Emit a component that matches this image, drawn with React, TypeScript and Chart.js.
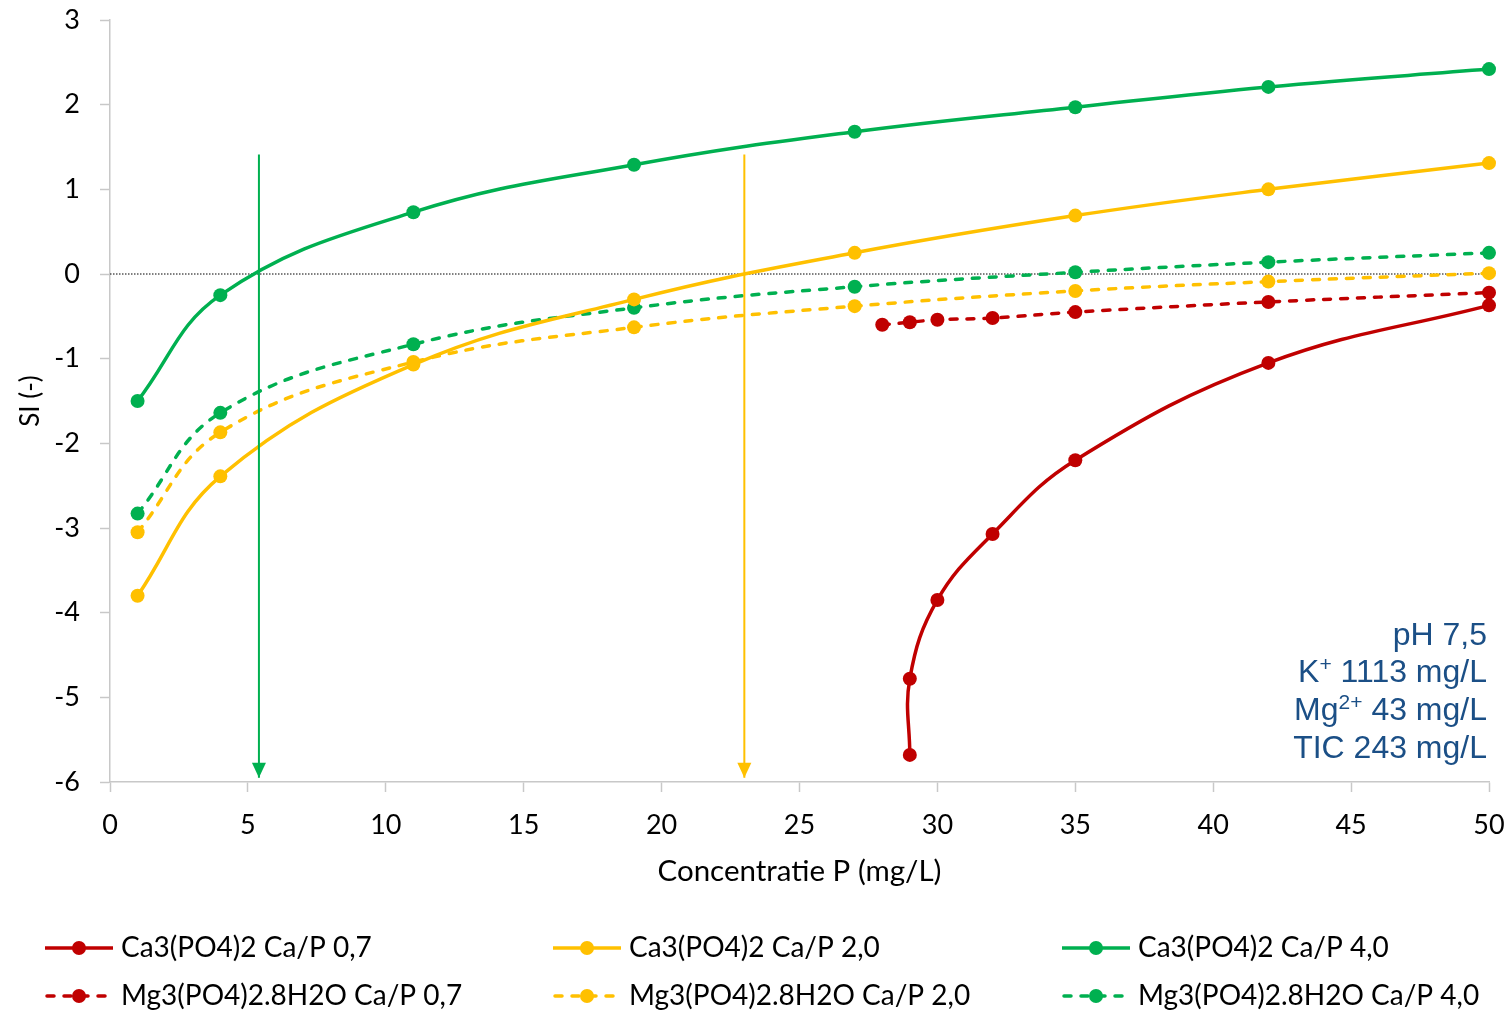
import { useEffect, useRef } from "react";
import { Chart, registerables } from "chart.js";

Chart.register(...registerables);

// Concentration P (mg/L) used for the Ca/P 2,0 and 4,0 series
const concP = [1, 4, 11, 19, 27, 35, 42, 50];

// Ca3(PO4)2 saturation indices
const caP07Conc = [29, 29, 30, 32, 35, 42, 50];
const caP07SI = [-5.68, -4.78, -3.85, -3.07, -2.2, -1.05, -0.37];
const caP20SI = [-3.8, -2.39, -1.07, -0.3, 0.25, 0.69, 1.0, 1.31];
const caP40SI = [-1.5, -0.25, 0.73, 1.29, 1.68, 1.97, 2.21, 2.42];

// Mg3(PO4)2.8H2O saturation indices
const mgP07Conc = [28, 29, 30, 32, 35, 42, 50];
const mgP07SI = [-0.6, -0.57, -0.54, -0.52, -0.45, -0.33, -0.22];
const mgP20SI = [-3.05, -1.87, -1.04, -0.63, -0.38, -0.2, -0.09, 0.01];
const mgP40SI = [-2.83, -1.64, -0.83, -0.4, -0.15, 0.02, 0.14, 0.25];

// Concentrations where Ca3(PO4)2 reaches SI = 0 (green: Ca/P 4,0, yellow: Ca/P 2,0)
const arrowConc = [5.4, 23.0];
const arrowTopSI = 1.41;
const arrowTipSI = -5.95;

// Axis ranges
const xRange = [0, 50];
const xStep = 5;
const yRange = [-6, 3];
const yStep = 1;

const RED = "#C00000";
const YELLOW = "#FFC000";
const GREEN = "#00B050";
const INFO_BLUE = "#1B4F86";
const AXIS_GREY = "#C8C8C8";
const FONT = "Lato";

type Seg = { t: string; sup?: boolean };
const infoLines: Seg[][] = [
  [{ t: "pH 7,5" }],
  [{ t: "K" }, { t: "+", sup: true }, { t: " 1113 mg/L" }],
  [{ t: "Mg" }, { t: "2+", sup: true }, { t: " 43 mg/L" }],
  [{ t: "TIC 243 mg/L" }],
];

const pts = (xs: number[], ys: number[]) => xs.map((x, i) => ({ x, y: ys[i] }));

const DASH = [7, 10];

function seriesDataset(label: string, xs: number[], ys: number[], color: string, dashed: boolean) {
  return {
    label,
    data: pts(xs, ys),
    borderColor: color,
    backgroundColor: color,
    pointBackgroundColor: color,
    pointBorderWidth: 0,
    pointRadius: 7,
    pointHoverRadius: 7,
    borderWidth: 3.5,
    borderDash: dashed ? DASH : [],
    borderCapStyle: dashed ? "round" : "butt",
    tension: 0.4,
    clip: false as const,
  };
}

function arrowDataset(x: number, color: string) {
  return {
    label: "arrow",
    data: [
      { x, y: arrowTopSI },
      { x, y: arrowTipSI },
    ],
    borderColor: color,
    backgroundColor: color,
    borderWidth: 2,
    pointRadius: 0,
    tension: 0,
    arrow: true,
  };
}

const legendOrder = [
  "Ca3(PO4)2 Ca/P 0,7",
  "Ca3(PO4)2 Ca/P 2,0",
  "Ca3(PO4)2 Ca/P 4,0",
  "Mg3(PO4)2.8H2O Ca/P 0,7",
  "Mg3(PO4)2.8H2O Ca/P 2,0",
  "Mg3(PO4)2.8H2O Ca/P 4,0",
];

const arrowHeads = {
  id: "arrowHeads",
  afterDatasetsDraw(chart: any) {
    const ctx = chart.ctx;
    chart.data.datasets.forEach((ds: any, i: number) => {
      if (!ds.arrow) return;
      const meta = chart.getDatasetMeta(i);
      const tip = meta.data[meta.data.length - 1];
      ctx.save();
      ctx.fillStyle = ds.borderColor;
      ctx.beginPath();
      ctx.moveTo(tip.x, tip.y);
      ctx.lineTo(tip.x - 7, tip.y - 15);
      ctx.lineTo(tip.x + 7, tip.y - 15);
      ctx.closePath();
      ctx.fill();
      ctx.restore();
    });
  },
};

const customLegend = {
  id: "customLegend",
  afterDraw(chart: any) {
    const ctx = chart.ctx;
    const colX = [45, 553, 1062];
    const rowY = [948, 996];
    legendOrder.forEach((label, k) => {
      const ds = chart.data.datasets.find((d: any) => d.label === label);
      if (!ds) return;
      const x0 = colX[k % 3];
      const y = rowY[Math.floor(k / 3)];
      ctx.save();
      ctx.strokeStyle = ds.borderColor;
      ctx.lineWidth = 3.5;
      ctx.lineCap = ds.borderCapStyle;
      ctx.setLineDash(ds.borderDash || []);
      ctx.beginPath();
      ctx.moveTo(x0 + (ds.borderDash.length ? 2 : 0), y);
      ctx.lineTo(x0 + 68, y);
      ctx.stroke();
      ctx.setLineDash([]);
      ctx.fillStyle = ds.borderColor;
      ctx.beginPath();
      ctx.arc(x0 + 34, y, 7, 0, Math.PI * 2);
      ctx.fill();
      ctx.fillStyle = "#000";
      ctx.font = `28px ${FONT}`;
      ctx.textBaseline = "middle";
      ctx.textAlign = "left";
      ctx.fillText(label, x0 + 76, y);
      ctx.restore();
    });
  },
};

const infoBox = {
  id: "infoBox",
  afterDraw(chart: any) {
    const ctx = chart.ctx;
    const area = chart.chartArea;
    const right = area.right - 2;
    const big = "32px 'Liberation Sans'";
    const small = "21px 'Liberation Sans'";
    const lineGap = 37.7;
    const lastY = area.bottom - 33;
    ctx.save();
    ctx.fillStyle = INFO_BLUE;
    ctx.textBaseline = "middle";
    ctx.textAlign = "left";
    infoLines.forEach((segs, i) => {
      const y = lastY - (infoLines.length - 1 - i) * lineGap;
      let width = 0;
      segs.forEach((s) => {
        ctx.font = s.sup ? small : big;
        width += ctx.measureText(s.t).width;
      });
      let x = right - width;
      segs.forEach((s) => {
        ctx.font = s.sup ? small : big;
        ctx.fillText(s.t, x, s.sup ? y - 8 : y);
        x += ctx.measureText(s.t).width;
      });
    });
    ctx.restore();
  },
};

// Fixed axis box sizes; the layout padding alone sets the plot margins
const fixBox = (size: number) => (scale: any) => {
  if (scale.isHorizontal()) scale.height = size;
  else scale.width = size;
  scale.paddingTop = 0;
  scale.paddingBottom = 0;
  scale.paddingLeft = 0;
  scale.paddingRight = 0;
};

export default function App() {
  const canvasRef = useRef<HTMLCanvasElement | null>(null);

  useEffect(() => {
    const canvas = canvasRef.current;
    if (!canvas) return;

    const datasets: any[] = [
      {
        label: "zero",
        data: [
          { x: xRange[0], y: 0 },
          { x: xRange[1], y: 0 },
        ],
        borderColor: "#000",
        borderWidth: 1,
        borderDash: [1.5, 1.5],
        pointRadius: 0,
        tension: 0,
        order: 10,
      },
      arrowDataset(arrowConc[0], GREEN),
      arrowDataset(arrowConc[1], YELLOW),
      seriesDataset(legendOrder[0], caP07Conc, caP07SI, RED, false),
      seriesDataset(legendOrder[1], concP, caP20SI, YELLOW, false),
      seriesDataset(legendOrder[2], concP, caP40SI, GREEN, false),
      seriesDataset(legendOrder[3], mgP07Conc, mgP07SI, RED, true),
      seriesDataset(legendOrder[4], concP, mgP20SI, YELLOW, true),
      seriesDataset(legendOrder[5], concP, mgP40SI, GREEN, true),
    ];

    const tickFont = { family: FONT, size: 27 };

    const chart = new Chart(canvas, {
      type: "line",
      data: { datasets },
      options: {
        responsive: false,
        animation: false,
        events: [],
        layout: { padding: { top: 20, right: 21, bottom: 120, left: 0 } },
        plugins: {
          legend: { display: false },
          tooltip: { enabled: false },
        },
        scales: {
          x: {
            type: "linear",
            min: xRange[0],
            max: xRange[1],
            ticks: { stepSize: xStep, font: tickFont, color: "#000", padding: 17, maxRotation: 0 },
            grid: {
              drawOnChartArea: false,
              drawTicks: true,
              tickLength: 10,
              tickColor: AXIS_GREY,
              tickWidth: 1.5,
            },
            border: { display: true, color: AXIS_GREY, width: 1.5 },
            title: {
              display: true,
              text: "Concentratie P (mg/L)",
              font: { family: FONT, size: 29.5 },
              color: "#000",
              padding: { top: 0, bottom: 3 },
            },
            afterFit: fixBox(110),
          },
          y: {
            type: "linear",
            min: yRange[0],
            max: yRange[1],
            ticks: { stepSize: yStep, font: tickFont, color: "#000", padding: 20 },
            grid: {
              drawOnChartArea: false,
              drawTicks: true,
              tickLength: 10,
              tickColor: AXIS_GREY,
              tickWidth: 1.5,
            },
            border: { display: true, color: AXIS_GREY, width: 1.5 },
            title: {
              display: true,
              text: "SI (-)",
              font: { family: FONT, size: 26 },
              color: "#000",
              padding: { top: 15, bottom: 0 },
            },
            afterFit: fixBox(110),
          },
        },
      },
      plugins: [arrowHeads, customLegend, infoBox],
    });

    return () => chart.destroy();
  }, []);

  return (
    <div style={{ position: "fixed", left: 0, top: 0, width: 1510, height: 1012, background: "#fff" }}>
      <canvas ref={canvasRef} width={1510} height={1012} style={{ display: "block" }} />
    </div>
  );
}
